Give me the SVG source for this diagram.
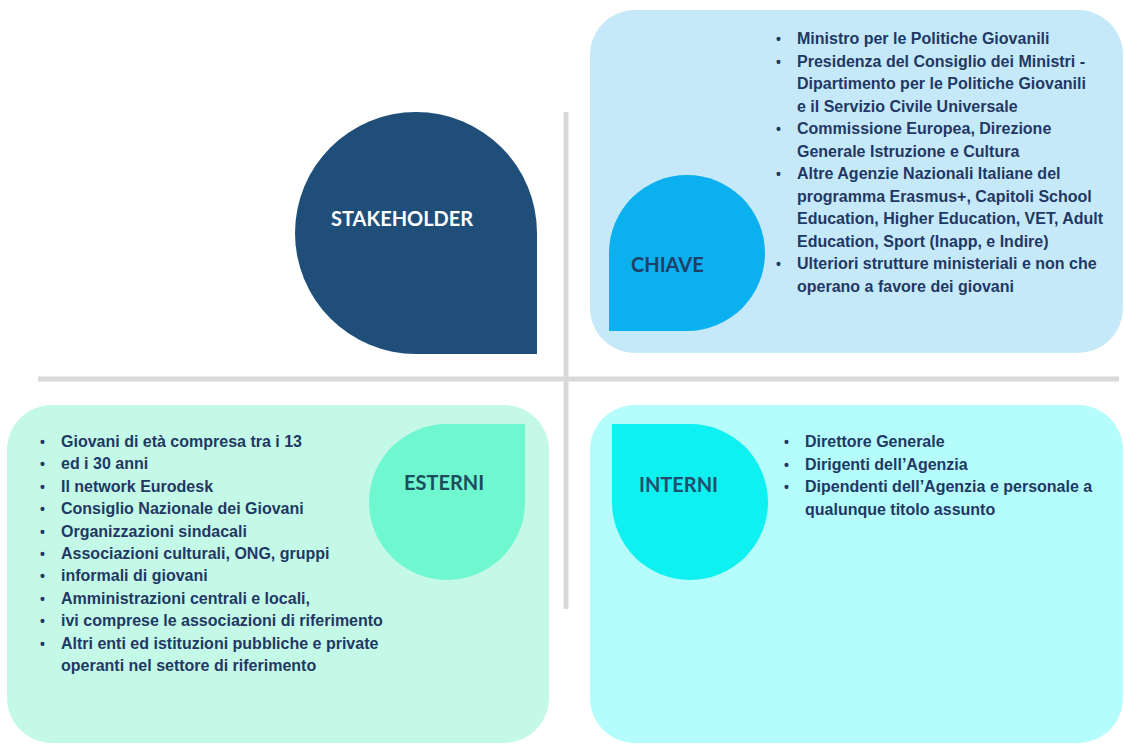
<svg xmlns="http://www.w3.org/2000/svg" width="1124" height="745" viewBox="0 0 1124 745">
<style>
.lbl{font-family:Lato,"Liberation Sans",sans-serif;font-weight:bold;font-size:20px}
.txt{font-family:"Liberation Sans",Arial,sans-serif;font-weight:bold;font-size:16px;fill:#1f3864}
.bul{font-family:"Liberation Sans",Arial,sans-serif;font-weight:bold;font-size:14px;fill:#1f3864}
.div{stroke:#d9d9d9;stroke-width:5;fill:none}
</style>
<rect width="1124" height="745" fill="#ffffff"/>
<g id="connectors">
<line class="div" x1="566" y1="112" x2="566" y2="609"/>
<line class="div" x1="38" y1="379" x2="1119" y2="379"/>
</g>
<g id="stakeholder">
<path d="M537,354 H416 A121,121 0 0 1 295,233 A121,121 0 0 1 416,112 A121,121 0 0 1 537,233 Z" fill="#1f4e79"/>
<text class="lbl" x="331" y="226" fill="#ffffff">STAKEHOLDER</text>
</g>
<g id="chiave">
<rect x="590" y="10" width="533" height="343" rx="45" fill="#c6e9f9"/>
<path d="M609,331 V253 A78,78 0 0 1 687,175 A78,78 0 0 1 765,253 A78,78 0 0 1 687,331 Z" fill="#0bb0ef"/>
<text class="lbl" x="631" y="272" fill="#1f3f66">CHIAVE</text>
<g class="bul">
<text x="776" y="44">•</text><text x="776" y="66.5">•</text><text x="776" y="134">•</text><text x="776" y="179">•</text><text x="776" y="269">•</text>
</g>
<g class="txt">
<text x="797" y="44">Ministro per le Politiche Giovanili</text>
<text x="797" y="66.5">Presidenza del Consiglio dei Ministri -</text>
<text x="797" y="89">Dipartimento per le Politiche Giovanili</text>
<text x="797" y="111.5">e il Servizio Civile Universale</text>
<text x="797" y="134">Commissione Europea, Direzione</text>
<text x="797" y="156.5">Generale Istruzione e Cultura</text>
<text x="797" y="179">Altre Agenzie Nazionali Italiane del</text>
<text x="797" y="201.5">programma Erasmus+, Capitoli School</text>
<text x="797" y="224">Education, Higher Education, VET, Adult</text>
<text x="797" y="246.5">Education, Sport (Inapp, e Indire)</text>
<text x="797" y="269">Ulteriori strutture ministeriali e non che</text>
<text x="797" y="291.5">operano a favore dei giovani</text>
</g>
</g>
<g id="esterni">
<rect x="7" y="405" width="542" height="338" rx="45" fill="#c4f9e8"/>
<path d="M525,424 V502 A78,78 0 0 1 447,580 A78,78 0 0 1 369,502 A78,78 0 0 1 447,424 Z" fill="#6ff7d0"/>
<text class="lbl" x="404" y="490" fill="#1b4d5c">ESTERNI</text>
<g class="bul">
<text x="40" y="447">•</text><text x="40" y="469.4">•</text><text x="40" y="491.8">•</text><text x="40" y="514.2">•</text><text x="40" y="536.6">•</text><text x="40" y="559">•</text><text x="40" y="581.4">•</text><text x="40" y="603.8">•</text><text x="40" y="626.2">•</text><text x="40" y="648.6">•</text>
</g>
<g class="txt">
<text x="61" y="447">Giovani di età compresa tra i 13</text>
<text x="61" y="469.4">ed i 30 anni</text>
<text x="61" y="491.8">Il network Eurodesk</text>
<text x="61" y="514.2">Consiglio Nazionale dei Giovani</text>
<text x="61" y="536.6">Organizzazioni sindacali</text>
<text x="61" y="559">Associazioni culturali, ONG, gruppi</text>
<text x="61" y="581.4">informali di giovani</text>
<text x="61" y="603.8">Amministrazioni centrali e locali,</text>
<text x="61" y="626.2">ivi comprese le associazioni di riferimento</text>
<text x="61" y="648.6">Altri enti ed istituzioni pubbliche e private</text>
<text x="61" y="671">operanti nel settore di riferimento</text>
</g>
</g>
<g id="interni">
<rect x="590" y="405" width="533" height="338" rx="45" fill="#b5fcfc"/>
<path d="M612,424 H690 A78,78 0 0 1 768,502 A78,78 0 0 1 690,580 A78,78 0 0 1 612,502 Z" fill="#0ff0f0"/>
<text class="lbl" x="639" y="492" fill="#1f4e6e">INTERNI</text>
<g class="bul">
<text x="784" y="447">•</text><text x="784" y="469.6">•</text><text x="784" y="492.2">•</text>
</g>
<g class="txt">
<text x="805" y="447">Direttore Generale</text>
<text x="805" y="469.6">Dirigenti dell’Agenzia</text>
<text x="805" y="492.2">Dipendenti dell’Agenzia e personale a</text>
<text x="805" y="514.8">qualunque titolo assunto</text>
</g>
</g>
</svg>
